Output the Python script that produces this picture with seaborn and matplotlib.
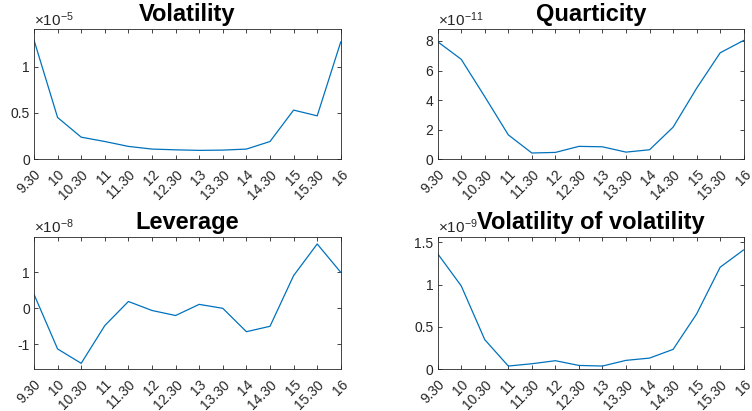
import numpy as np
import pandas as pd
import matplotlib
matplotlib.use("Agg")
import matplotlib.pyplot as plt
import seaborn as sns
from matplotlib.ticker import FormatStrFormatter

# Time of day labels (half hour buckets)
times = ["9.30", "10", "10.30", "11", "11.30", "12", "12.30", "13",
         "13.30", "14", "14.30", "15", "15.30", "16"]

# values, in units of the exponent shown above each panel
volatility = [1.288, 0.45, 0.237, 0.19, 0.137, 0.108, 0.10, 0.094,
              0.097, 0.108, 0.19, 0.53, 0.468, 1.27]
quarticity = [7.95, 6.76, 4.23, 1.64, 0.41, 0.45, 0.86, 0.83,
              0.47, 0.63, 2.16, 4.80, 7.20, 8.04]
leverage = [0.39, -1.13, -1.53, -0.48, 0.19, -0.06, -0.20, 0.11,
            0.0, -0.65, -0.50, 0.91, 1.79, 1.0]
volvol = [1.364, 0.984, 0.348, 0.036, 0.063, 0.099, 0.043, 0.036,
          0.103, 0.13, 0.233, 0.652, 1.205, 1.41]

panels = [
    ("Volatility", volatility, -5, (0, 1.406), [0, 0.5, 1]),
    ("Quarticity", quarticity, -11, (0, 8.8), [0, 2, 4, 6, 8]),
    ("Leverage", leverage, -8, (-1.69, 1.98), [-1, 0, 1]),
    ("Volatility of volatility", volvol, -9, (0, 1.56), [0, 0.5, 1, 1.5]),
]

sns.set_style("ticks")
plt.rcParams["font.family"] = ["Liberation Sans", "DejaVu Sans"]
plt.rcParams["mathtext.fontset"] = "custom"
plt.rcParams["mathtext.rm"] = "Liberation Sans"
plt.rcParams["mathtext.default"] = "rm"

fig = plt.figure(figsize=(7.52, 4.11), dpi=100)
positions = [
    [0.0452, 0.613, 0.408, 0.316],
    [0.582, 0.613, 0.407, 0.316],
    [0.0452, 0.102, 0.408, 0.321],
    [0.582, 0.102, 0.407, 0.321],
]

axis_col = "#262626"
for (title, vals, expo, ylim, yticks), pos in zip(panels, positions):
    ax = fig.add_axes(pos)
    df = pd.DataFrame({"x": np.arange(len(times)), "y": vals})
    sns.lineplot(data=df, x="x", y="y", ax=ax, color="#0072BD", linewidth=0.9)
    ax.set_xlim(0, len(times) - 1)
    ax.set_ylim(*ylim)
    ax.set_yticks(yticks)
    ax.yaxis.set_major_formatter(FormatStrFormatter("%g"))
    ax.set_xticks(np.arange(len(times)))
    ax.set_xticklabels(times, rotation=45, ha="right", va="top",
                       rotation_mode="anchor")
    ax.set_xlabel("")
    ax.set_ylabel("")
    ax.tick_params(direction="in", length=3, width=0.6, labelsize=10,
                   colors=axis_col, top=True, right=True, pad=3)
    ax.tick_params(axis="x", pad=6)
    for s in ax.spines.values():
        s.set_color(axis_col)
        s.set_linewidth(0.6)
    ax.set_title(title, fontsize=17, fontweight="bold", pad=6, color="black")
    ax.text(0.0, 1.005, "\u00d710$^{\\mathrm{-%d}}$" % abs(expo),
            transform=ax.transAxes, fontsize=11, color=axis_col,
            ha="left", va="bottom")

fig.savefig("out.png", dpi=100)
